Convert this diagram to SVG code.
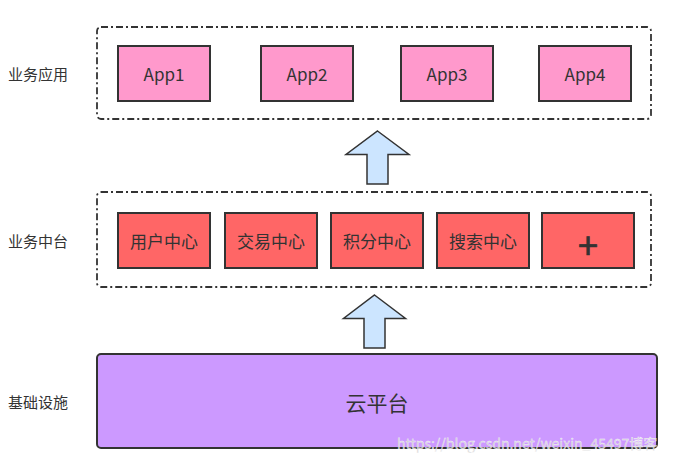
<svg xmlns="http://www.w3.org/2000/svg" width="679" height="463" viewBox="0 0 679 463">
<style>
  text { font-family: "Noto Sans CJK SC", "Liberation Sans", sans-serif; fill: #333333; }
  .container { fill: none; stroke: #333333; stroke-width: 1.8; stroke-dasharray: 7 3 2 3; }
  .app { fill: #FF99CC; stroke: #333333; stroke-width: 2; }
  .mid { fill: #FF6666; stroke: #333333; stroke-width: 2; }
  .base { fill: #CC99FF; stroke: #333333; stroke-width: 2; }
  .arrow { fill: #CCE5FF; stroke: #333333; stroke-width: 1.5; stroke-linejoin: miter; }
  .lbl { font-size: 15px; }
  .node { font-size: 17px; text-anchor: middle; dominant-baseline: central; }
</style>
<rect width="679" height="463" fill="#ffffff"/>

<g id="labels">
  <text class="lbl" x="8" y="80">业务应用</text>
  <text class="lbl" x="8" y="247">业务中台</text>
  <text class="lbl" x="8" y="408">基础设施</text>
</g>

<g id="layer-app">
  <rect class="container" x="97" y="27" width="554" height="92" rx="4"/>
</g>
<g id="app1"><rect class="app" x="118" y="46" width="92" height="55"/><text class="node" x="164" y="73">App1</text></g>
<g id="app2"><rect class="app" x="261" y="46" width="92" height="55"/><text class="node" x="307" y="73">App2</text></g>
<g id="app3"><rect class="app" x="401" y="46" width="92" height="55"/><text class="node" x="447" y="73">App3</text></g>
<g id="app4"><rect class="app" x="539" y="46" width="92" height="55"/><text class="node" x="585" y="73">App4</text></g>

<g id="layer-mid">
  <rect class="container" x="97" y="192" width="554" height="95" rx="4"/>
</g>
<g id="user"><rect class="mid" x="118" y="213" width="92" height="55"/><text class="node" x="164" y="240">用户中心</text></g>
<g id="trade"><rect class="mid" x="225" y="213" width="92" height="55"/><text class="node" x="271" y="240">交易中心</text></g>
<g id="points"><rect class="mid" x="331" y="213" width="92" height="55"/><text class="node" x="377" y="240">积分中心</text></g>
<g id="search"><rect class="mid" x="437" y="213" width="92" height="55"/><text class="node" x="483" y="240">搜索中心</text></g>
<g id="plus"><rect class="mid" x="542" y="213" width="92" height="55"/><text class="node" x="588" y="243" style="font-size:36px; stroke:#333333; stroke-width:0.7">+</text></g>

<g id="cloud"><rect class="base" x="97" y="354" width="560" height="94" rx="4"/><text class="node" x="377" y="402" style="font-size:21px">云平台</text></g>

<g id="connectors">
  <polygon class="arrow" points="377.5,131 409,154.5 388,154.5 388,184 367,184 367,154.5 346,154.5"/>
  <polygon class="arrow" points="374.5,295 405.5,318.5 385,318.5 385,348 364,348 364,318.5 343.5,318.5"/>
</g>

<text x="397" y="449" style="font-size:14px; fill:#d0d0d0; stroke:#ffffff; stroke-width:0.3; opacity:0.9">https://blog.csdn.net/weixin_45497博客</text>
</svg>
